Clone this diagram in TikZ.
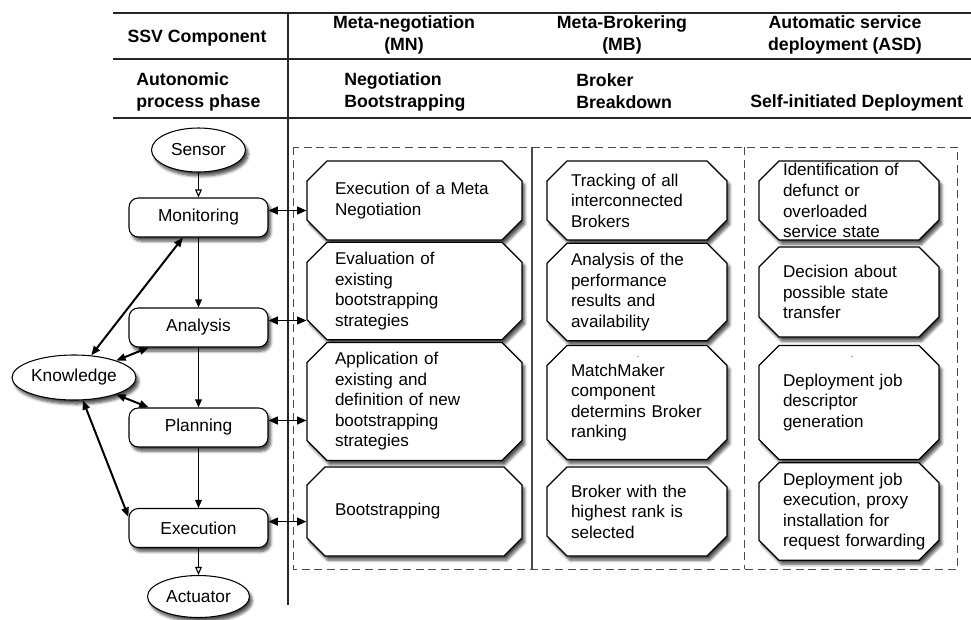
\documentclass[tikz,border=0pt]{standalone}
\usepackage{fontspec}
\setmainfont{Liberation Sans}
\usetikzlibrary{arrows.meta,shapes.misc,shapes.geometric,shadows.blur}

\begin{document}
\begin{tikzpicture}[x=0.75pt,y=-0.75pt,
  every node/.style={inner sep=0pt},
  hdr/.style={font=\fontsize{13.3}{16.5}\selectfont\bfseries, align=left},
  hdrc/.style={font=\fontsize{13.3}{16.5}\selectfont\bfseries, align=center},
  tablerule/.style={line width=1.1pt, draw=black!85},
  soft/.style={blur shadow={shadow xshift=2pt, shadow yshift=-3pt, shadow blur steps=6, shadow opacity=70}},
  phase/.style={draw, line width=0.8pt, rounded corners=7pt, minimum width=104.25pt, minimum height=29.25pt, fill=white, soft, font=\fontsize{13}{15.6}\selectfont},
  io/.style={draw, ellipse, line width=0.8pt, fill=white, soft, font=\fontsize{13}{15.6}\selectfont},
  task/.style={draw, chamfered rectangle, chamfered rectangle xsep=7.5pt, chamfered rectangle ysep=7.5pt, line width=0.9pt, fill=white, soft, align=left, font=\fontsize{12.8}{15.4}\selectfont},
  colA/.style={minimum width=161.25pt, text width=119.25pt},
  colB/.style={minimum width=135pt, text width=99pt},
  rowA/.style={minimum height=59.25pt},
  rowB/.style={minimum height=67.5pt},
  rowC/.style={minimum height=85.5pt},
  rowD/.style={minimum height=66.75pt},
  flow/.style={line width=0.8pt, -{Triangle[length=6pt,width=5pt]}},
  flowopen/.style={line width=0.8pt, -{Triangle[open,length=6pt,width=5pt]}},
  link/.style={line width=0.9pt, {Triangle[length=7pt,width=6pt]}-{Triangle[length=7pt,width=6pt]}},
  kb/.style={line width=1.5pt, {Triangle[length=7pt,width=5.5pt]}-{Triangle[length=7pt,width=5.5pt]}},
  frame/.style={line width=0.75pt, draw=black!70, dash pattern=on 6pt off 3.5pt},
]
\useasboundingbox (0,0) rectangle (971,619);

% table rules
\draw[tablerule] (113,13) -- (971,13);
\draw[tablerule] (113,59) -- (971,59);
\draw[tablerule] (113,118) -- (971,118);
\draw[tablerule] (288,12) -- (288,605);

% header texts
\node[hdrc] (hssv) at (197,38) {SSV Component};
\node[hdrc] (hmn) at (404,35) {Meta-negotiation\\(MN)};
\node[hdrc] (hmb) at (622,35) {Meta-Brokering\\(MB)};
\node[hdrc] (hasd) at (845,35) {Automatic service\\deployment (ASD)};
\node[hdr, anchor=west] (hphase) at (136,91.5) {Autonomic\\process phase};
\node[hdr, anchor=west] (hnb) at (344,91.5) {Negotiation\\Bootstrapping};
\node[hdr, anchor=west] (hbb) at (576,91.5) {Broker\\Breakdown};
\node[hdr, anchor=west] (hsd) at (750,103) {Self-initiated Deployment};

% dashed frame with column separators
\draw[frame] (293,147) rectangle (957,569);
\draw[line width=0.8pt, black!70] (532,147) -- (532,569);
\draw[frame] (744,147) -- (744,569);

% Meta-negotiation tasks
\node[task, colA, rowA] (a1) at (414.5,200.5) {Execution of a Meta\\Negotiation};
\node[task, colA, minimum height=66pt] (a2) at (414.5,291) {Evaluation of\\existing\\bootstrapping\\strategies};
\node[task, colA, rowC] (a3) at (414.5,401.5) {Application of\\existing and\\definition of new\\bootstrapping\\strategies};
\node[task, colA, rowD] (a4) at (414.5,511.5) {Bootstrapping};

% Meta-Brokering tasks
\node[task, colB, rowA] (b1) at (637,200.5) {Tracking of all\\interconnected\\Brokers};
\node[task, colB, rowB] (b2) at (637,292) {Analysis of the\\performance\\results and\\availability};
\node[task, colB, rowC] (b3) at (637,402.5) {MatchMaker\\component\\determins Broker\\ranking};
\node[task, colB, rowD] (b4) at (637,511.5) {Broker with the\\highest rank is\\selected};

% Automatic service deployment tasks
\node[task, colB, rowA, text height=2.2pt, text depth=39pt] (c1) at (849,200.5) {Identification of\\defunct or\\overloaded\\service state};
\node[task, colB, rowB] (c2) at (849,292) {Decision about\\possible state\\transfer};
\node[task, colB, rowC] (c3) at (849,402.5) {Deployment job\\descriptor\\generation};
\node[task, colB, rowD] (c4) at (849,511.5) {Deployment job\\execution, proxy\\installation for\\\mbox{request forwarding}};

% stray dots
\node[font=\fontsize{6}{6}\selectfont] (dotb) at (638,357) {.};
\node[font=\fontsize{6}{6}\selectfont] (dotc) at (852,357) {.};

% autonomic loop
\node[io, minimum width=70.5pt, minimum height=33pt] (sensor) at (198.5,150) {Sensor};
\node[phase] (mon) at (198.5,217.5) {Monitoring};
\node[phase] (ana) at (198.5,327.5) {Analysis};
\node[phase] (pla) at (198.5,427.5) {Planning};
\node[phase] (exe) at (198.5,528) {Execution};
\node[io, minimum width=76.5pt, minimum height=31.5pt] (act) at (198.5,596.5) {Actuator};
\node[io, minimum width=93pt, minimum height=33.75pt] (know) at (74,377.5) {Knowledge};

\draw[flowopen] (sensor) -- (mon);
\draw[flow] (mon) -- (ana);
\draw[flow] (ana) -- (pla);
\draw[flow] (pla) -- (exe);
\draw[flowopen] (exe) -- (act);

\draw[kb] (know) -- (mon);
\draw[kb] (know) -- (ana);
\draw[kb] (know) -- (pla);
\draw[kb] (know) -- (exe.171);

% links from phases to task rows
\coordinate (pm) at ([yshift=5.25pt]mon.east);
\coordinate (pa) at ([yshift=5.25pt]ana.east);
\coordinate (pp) at ([yshift=5.25pt]pla.east);
\coordinate (pe) at ([yshift=4.8pt]exe.east);
\draw[link] (pm) -- (pm -| a1.west);
\draw[link] (pa) -- (pa -| a2.west);
\draw[link] (pp) -- (pp -| a3.west);
\draw[link] (pe) -- (pe -| a4.west);
\end{tikzpicture}
\end{document}
